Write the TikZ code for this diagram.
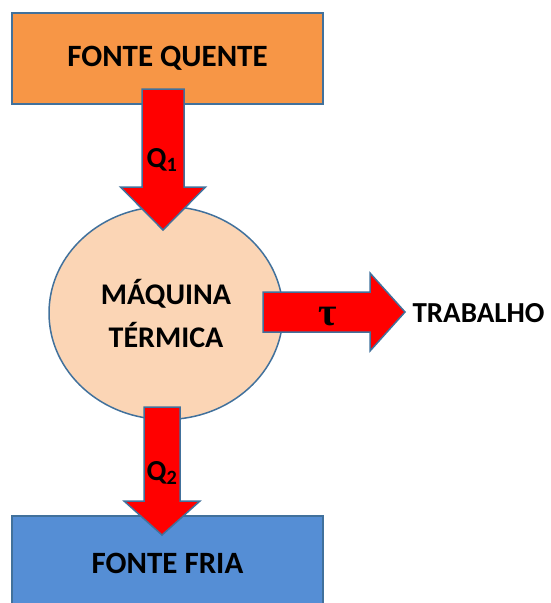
\documentclass[tikz,border=0pt]{standalone}
\usepackage{fontspec}
\setmainfont{Carlito}
\newfontfamily\taufont{Liberation Serif}
\usetikzlibrary{shapes.geometric}

\definecolor{hotfill}{HTML}{F79646}
\definecolor{engfill}{HTML}{FBD5B5}
\definecolor{coldfill}{HTML}{558ED5}
\definecolor{edgeblue}{HTML}{41719C}

\tikzset{
  box/.style={draw=edgeblue, line width=1.5pt, minimum width=311pt, inner sep=0pt,
    font=\bfseries\fontsize{31}{36}\selectfont},
  blockarr/.style={draw=edgeblue, line width=1.5pt, fill=red, line join=miter},
  lbl/.style={inner sep=0pt, font=\bfseries\fontsize{29}{34}\selectfont}
}

\begin{document}
\begin{tikzpicture}[x=1pt,y=-1pt]
\useasboundingbox (0,0) rectangle (551,603);
\clip (0,0) rectangle (551,603);
\node[box, fill=hotfill, minimum height=91pt] (hot) at (167.5,58.5) {FONTE QUENTE};
\node[box, fill=coldfill, minimum height=94pt] (cold) at (167.5,563) {FONTE FRIA};
\node[ellipse, draw=edgeblue, fill=engfill, line width=1.5pt, minimum width=234pt,
  minimum height=213pt, align=center, inner sep=0pt,
  font=\bfseries\fontsize{30}{43}\selectfont] (engine) at (166,313) {MÁQUINA\\TÉRMICA};
% heat in
\draw[blockarr] (142,89) -- (184,89) -- (184,187) -- (205.5,187) -- (163,230)
  -- (120.5,187) -- (142,187) -- cycle;
% heat out
\draw[blockarr] (144,407) -- (180,407) -- (180,501) -- (200,501) -- (162,535)
  -- (124,501) -- (144,501) -- cycle;
% work
\draw[blockarr] (263,292) -- (370,292) -- (370,273) -- (405,312) -- (370,351)
  -- (370,332) -- (263,332) -- cycle;
\node[lbl] (q1) at (162,160) {Q\textsubscript{1}};
\node[lbl] (q2) at (162,473) {Q\textsubscript{2}};
\node[lbl, font=\taufont\bfseries\fontsize{40}{40}\selectfont] (tau) at (328,317) {τ};
\node[lbl] (work) at (478.5,313) {TRABALHO};
\end{tikzpicture}
\end{document}
